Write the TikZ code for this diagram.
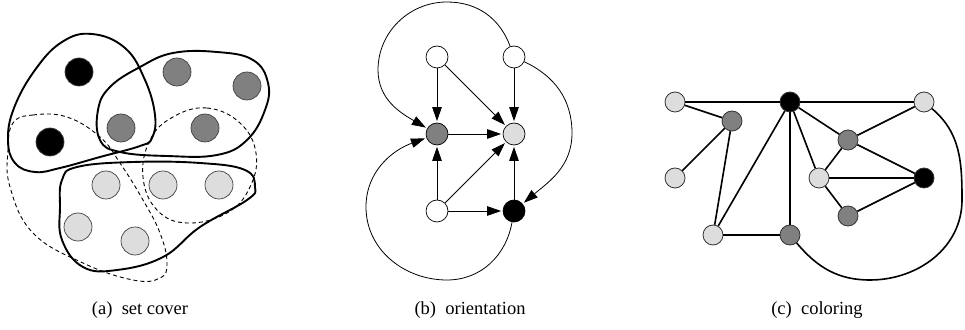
\documentclass[tikz,border=0pt]{standalone}
\usepackage{fontspec}
\setmainfont{Liberation Serif}
\usetikzlibrary{arrows.meta}
\definecolor{dgray}{HTML}{808080}
\definecolor{lgray}{HTML}{DDDDDD}
\tikzset{
  vA/.style={circle,draw=black!75,line width=0.7pt,minimum size=28pt,inner sep=0pt},
  vB/.style={circle,draw=black,line width=0.7pt,minimum size=22pt,inner sep=0pt},
  vC/.style={circle,draw=black!80,line width=0.8pt,minimum size=20pt,inner sep=0pt},
  blk/.style={fill=black},
  dg/.style={fill=dgray},
  lg/.style={fill=lgray},
  wh/.style={fill=white},
  blob/.style={line width=1.9pt},
  dblob/.style={line width=0.9pt,dash pattern=on 4pt off 3pt},
  arr/.style={line width=0.8pt,shorten >=1.5pt,-{Triangle[length=14pt,width=9.5pt]}},
  ed/.style={line width=1.6pt},
  captxt/.style={font=\fontsize{18.5}{21}\selectfont}
}
\begin{document}
\begin{tikzpicture}[x=1pt,y=1pt]
\useasboundingbox (0,0) rectangle (965,329);
% ---------- (a) set cover ----------
\draw[blob] plot[smooth cycle,tension=0.7] coordinates {(92,295) (125,281) (145,249) (155,214) (152,191) (140,183) (100,172) (60,161) (35,157) (15,166) (8,189) (14,221) (35,259) (62,287)};
\draw[blob] plot[smooth cycle,tension=0.7] coordinates {(120,177) (100,189) (98,219) (110,242) (140,262) (173,276) (217,277) (253,269) (268,246) (265,219) (247,189) (217,174) (167,173)};
\draw[blob] plot[smooth cycle,tension=0.7] coordinates {(62,149) (77,162) (133,167) (200,166) (245,159) (255,142) (247,129) (200,102) (163,72) (117,59) (83,62) (62,89) (60,122)};
\draw[dblob] plot[smooth cycle,tension=0.7] coordinates {(13,206) (33,214) (67,212) (100,192) (120,166) (143,129) (160,96) (167,66) (160,51) (133,49) (83,66) (33,96) (10,142) (8,179)};
\draw[dblob] plot[smooth cycle,tension=0.7] coordinates {(173,212) (207,221) (240,206) (256,176) (250,142) (227,116) (187,106) (157,119) (143,152) (150,189)};
\node[vA,blk] (a1) at (79,257) {};
\node[vA,blk] (a2) at (50,187) {};
\node[vA,dg] (a3) at (177,257) {};
\node[vA,dg] (a4) at (247,243) {};
\node[vA,dg] (a5) at (121,201) {};
\node[vA,dg] (a6) at (205,201) {};
\node[vA,lg] (a7) at (106,144) {};
\node[vA,lg] (a8) at (163,144) {};
\node[vA,lg] (a9) at (219,144) {};
\node[vA,lg] (a10) at (78,102) {};
\node[vA,lg] (a11) at (135,88) {};
\node[captxt] (capa) at (140,19) {(a)\enspace set cover};
% ---------- (b) orientation ----------
\node[vB,wh] (TL) at (437,272) {};
\node[vB,wh] (TR) at (514,272) {};
\node[vB,dg] (DG) at (437,195) {};
\node[vB,lg] (LG) at (514,195) {};
\node[vB,wh] (BL) at (437,118) {};
\node[vB,blk] (BK) at (514,118) {};
\coordinate (ta) at (447,327);
\coordinate (tl) at (378,259);
\coordinate (bb) at (447,49);
\coordinate (bl) at (366,122);
\coordinate (rr) at (572,196);
\draw[arr] (TL) -- (DG);
\draw[arr] (TL) -- (LG);
\draw[arr] (TR) -- (LG);
\draw[arr] (DG) -- (LG);
\draw[arr] (BL) -- (DG);
\draw[arr] (BL) -- (LG);
\draw[arr] (BL) -- (BK);
\draw[arr] (BK) -- (LG);
\draw[arr] (TR) to[out=110,in=0] (ta) to[out=180,in=90] (tl) to[out=-90,in=150] (DG);
\draw[arr] (BK) to[out=-100,in=0] (bb) to[out=180,in=-90] (bl) to[out=90,in=200] (DG);
\draw[arr] (TR) to[out=-25,in=90] (rr) to[out=-90,in=40] (BK);
\node[captxt] (capb) at (470,19) {(b)\enspace orientation};
% ---------- (c) coloring ----------
\node[vC,lg] (c1) at (675,227) {};
\node[vC,dg] (c2) at (732,208) {};
\node[vC,lg] (c3) at (675,151) {};
\node[vC,lg] (c4) at (713,94) {};
\node[vC,blk] (c5) at (790,227) {};
\node[vC,dg] (c6) at (790,94) {};
\node[vC,lg] (c7) at (924,227) {};
\node[vC,dg] (c8) at (848,189) {};
\node[vC,lg] (c9) at (819,151) {};
\node[vC,blk] (c10) at (924,151) {};
\node[vC,dg] (c11) at (848,113) {};
\coordinate (cb) at (870,49);
\coordinate (cr) at (962,129);
\draw[ed] (c6) to[out=-50,in=180] (cb) to[out=0,in=-90] (cr) to[out=90,in=-40] (c7);
\foreach \u/\v in {c1/c5,c5/c7,c1/c2,c2/c3,c2/c4,c4/c5,c4/c6,c5/c6,c5/c8,c5/c9,c8/c7,c8/c9,c8/c10,c9/c10,c9/c11,c11/c10}
  \draw[ed] (\u) -- (\v);
\node[captxt] (capc) at (817,19) {(c)\enspace coloring};
\end{tikzpicture}
\end{document}
